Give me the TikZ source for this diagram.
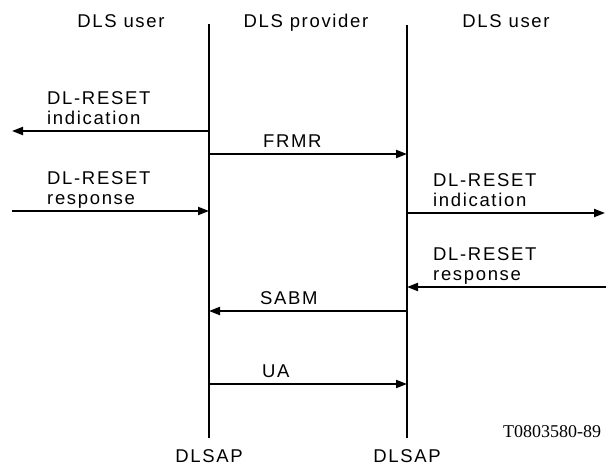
\documentclass[tikz,border=0pt]{standalone}
\usepackage{fontspec}
\setmainfont{Liberation Sans}[LetterSpace=9]
\newfontfamily\serifT{Liberation Serif}
\usetikzlibrary{arrows.meta}
\begin{document}
\begin{tikzpicture}[x=1pt,y=-1pt,
  lbl/.style={inner sep=0pt, font=\fontsize{18.5}{20}\selectfont},
  msg/.style={line width=2pt, -{Triangle[length=11pt,width=8pt]}},
  life/.style={line width=2pt}]
\useasboundingbox (0,0) rectangle (606,470);
% lifelines
\coordinate (Lt) at (209,24);  \coordinate (Lb) at (209,438);
\coordinate (Rt) at (407,25);  \coordinate (Rb) at (407,438);
\draw[life] (Lt) -- (Lb);
\draw[life] (Rt) -- (Rb);
% headers
\node[lbl, anchor=base] (h1) at (121,28) {DLS user};
\node[lbl, anchor=base] (h2) at (306,28) {DLS provider};
\node[lbl, anchor=base] (h3) at (506,28) {DLS user};
% message points
\coordinate (L1) at (209,131); \coordinate (W1) at (12,131);
\coordinate (L2) at (209,154); \coordinate (R2) at (407,154);
\coordinate (W3) at (12,211);  \coordinate (L3) at (209,211);
\coordinate (R4) at (407,213); \coordinate (E4) at (605,213);
\coordinate (E5) at (606,287); \coordinate (R5) at (407,287);
\coordinate (R6) at (407,311); \coordinate (L6) at (209,311);
\coordinate (L7) at (209,384); \coordinate (R7) at (407,384);
\draw[msg] (L1) -- (W1);
\draw[msg] (L2) -- (R2);
\draw[msg] (W3) -- (L3);
\draw[msg] (R4) -- (E4);
\draw[msg] (E5) -- (R5);
\draw[msg] (R6) -- (L6);
\draw[msg] (L7) -- (R7);
% labels
\node[lbl, anchor=base west] (a1) at (47,105) {DL-RESET};
\node[lbl, anchor=base west] (a2) at (47,125) {indication};
\node[lbl, anchor=base west] (frmr) at (263,148) {FRMR};
\node[lbl, anchor=base west] (b1) at (47,185) {DL-RESET};
\node[lbl, anchor=base west] (b2) at (47,205) {response};
\node[lbl, anchor=base west] (c1) at (433,187) {DL-RESET};
\node[lbl, anchor=base west] (c2) at (433,207) {indication};
\node[lbl, anchor=base west] (d1) at (433,261) {DL-RESET};
\node[lbl, anchor=base west] (d2) at (433,281) {response};
\node[lbl, anchor=base west] (sabm) at (260,305) {SABM};
\node[lbl, anchor=base west] (ua) at (262,378) {UA};
\node[lbl, anchor=base] (s1) at (209,463) {DLSAP};
\node[lbl, anchor=base] (s2) at (407,463) {DLSAP};
\node[inner sep=0pt, anchor=base west, font=\serifT\fontsize{18}{20}\selectfont] (ref) at (503,438) {T0803580-89};
\end{tikzpicture}
\end{document}
